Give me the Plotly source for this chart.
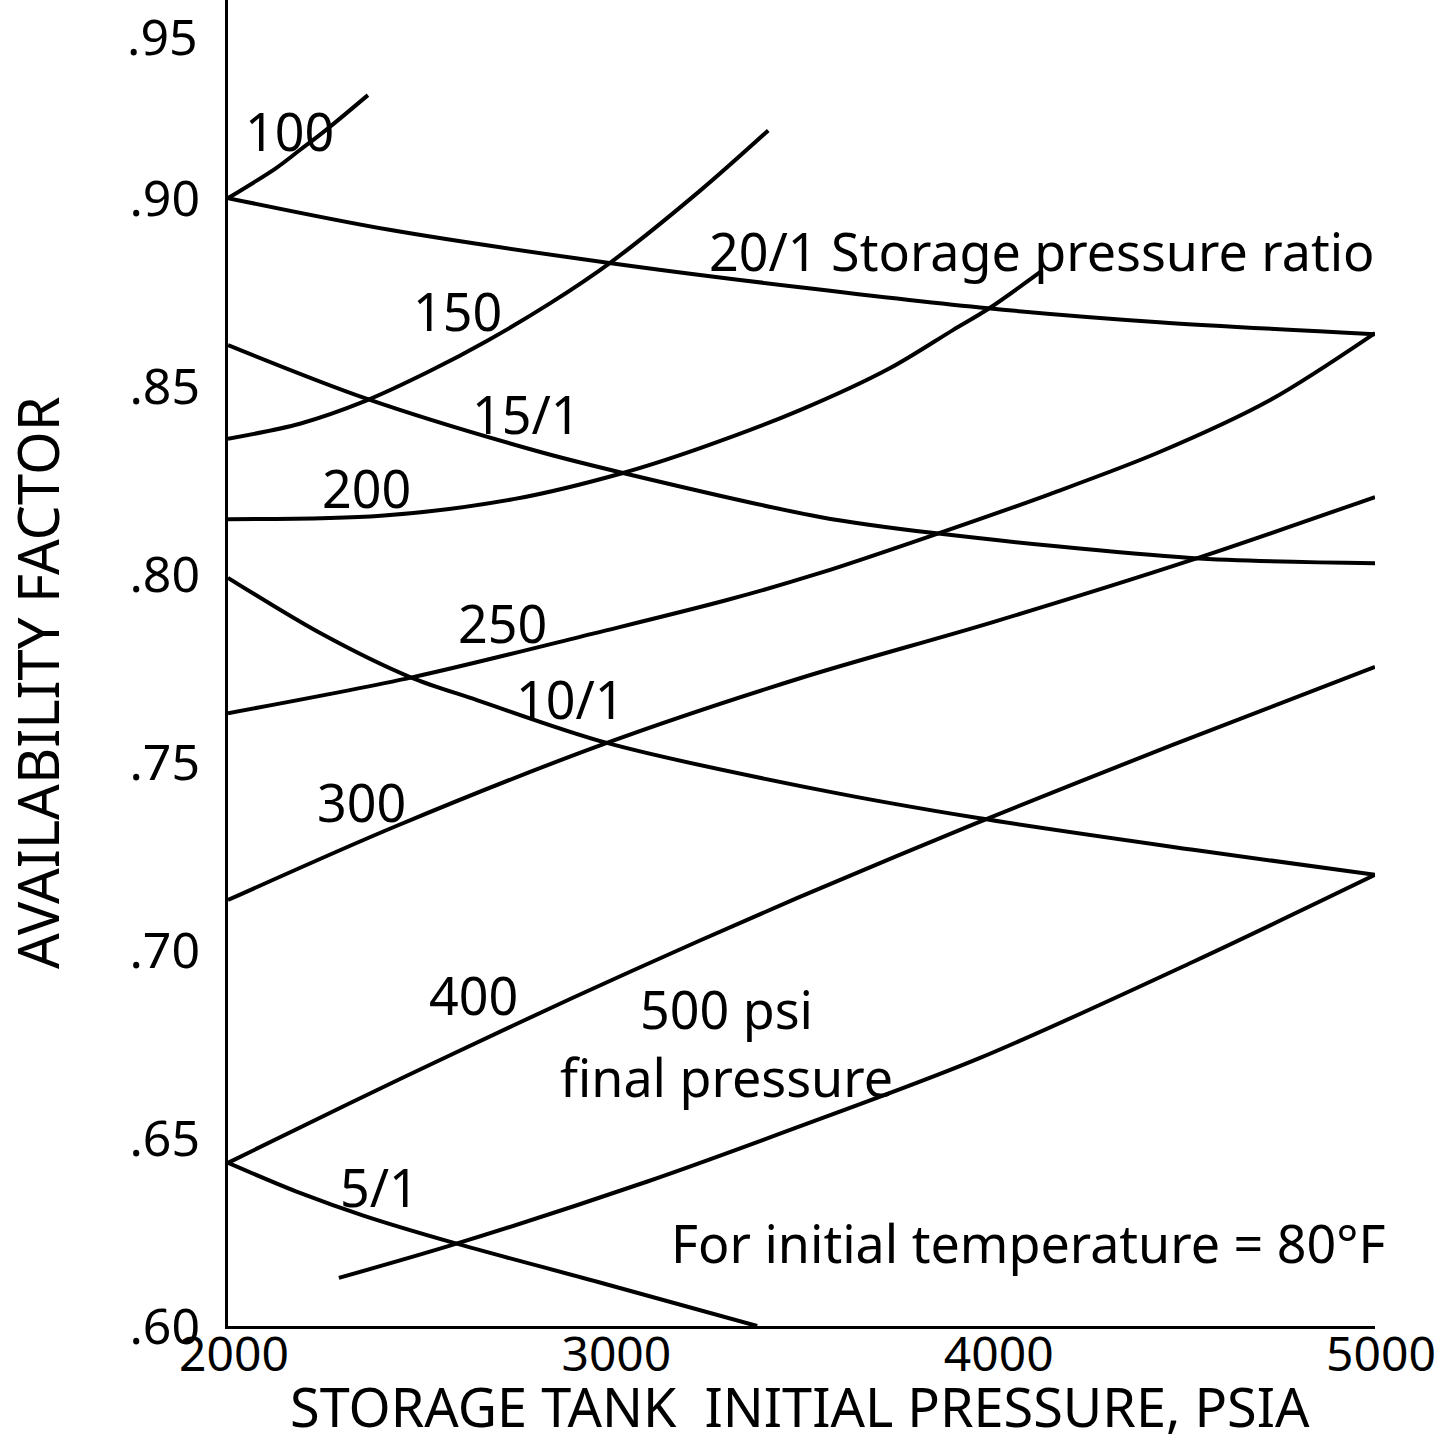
import plotly.graph_objects as go

# ---- data (x = storage tank initial pressure, psia; y = availability factor)
# final-pressure curves (psi)
p_100 = [2000, 2126, 2188, 2256, 2366]
af_100 = [0.9000, 0.9080, 0.9128, 0.9181, 0.9274]

p_150 = [2000, 2188, 2358, 2528, 2677, 2842, 3002, 3235, 3413]
af_150 = [0.836, 0.840, 0.846, 0.854, 0.862, 0.872, 0.883, 0.902, 0.918]

p_200 = [2000, 2400, 2750, 3033, 3235, 3496, 3732, 3896, 3988, 4124]
af_200 = [0.8146, 0.8155, 0.8200, 0.8269, 0.8335, 0.8436, 0.8548, 0.8649, 0.8705, 0.8803]

p_250 = [2000, 2484, 2960, 3305, 3549, 3860, 4150, 4435, 4726, 5000]
af_250 = [0.7630, 0.7726, 0.7843, 0.7931, 0.8003, 0.8109, 0.8213, 0.8324, 0.8463, 0.8641]

p_300 = [2000, 2445, 2991, 3496, 4003, 4519, 5000]
af_300 = [0.7133, 0.7332, 0.7551, 0.7723, 0.7873, 0.8037, 0.8205]

p_400 = [2000, 2317, 2578, 2902, 3227, 3488, 3951, 4469, 5000]
af_400 = [0.6434, 0.6592, 0.6719, 0.6873, 0.7022, 0.7138, 0.7335, 0.7545, 0.7753]

p_500 = [2290, 2591, 3099, 3488, 3967, 4529, 5000]
af_500 = [0.6128, 0.6217, 0.6385, 0.6528, 0.6713, 0.6971, 0.7200]

# storage pressure ratio curves
p_r20 = [2000, 2426, 3002, 3496, 3988, 4435, 5000]
af_r20 = [0.9000, 0.8915, 0.8827, 0.8763, 0.8707, 0.8670, 0.8638]

p_r15 = [2000, 2358, 2798, 3033, 3548, 3847, 4519, 5000]
af_r15 = [0.8609, 0.8468, 0.8330, 0.8269, 0.8152, 0.8109, 0.8043, 0.8029]

p_r10 = [2000, 2241, 2476, 2651, 2991, 3548, 3962, 4529, 5000]
af_r10 = [0.7990, 0.7843, 0.7726, 0.7665, 0.7551, 0.7426, 0.7351, 0.7266, 0.7200]

p_r5 = [2000, 2188, 2356, 2591, 2968, 3384]
af_r5 = [0.6434, 0.6354, 0.6293, 0.6221, 0.6117, 0.6000]

x_ticks = [2000, 3000, 4000, 5000]
x_ticktext = ["2000", "3000", "4000", "5000"]
y_ticks = [0.60, 0.65, 0.70, 0.75, 0.80, 0.85, 0.90]
y_ticktext = [".60", ".65", ".70", ".75", ".80", ".85", ".90"]
top_ticktext = ".95"

# curve labels: (text, x, y)
labels = [
    ("100", 2162, 0.918),
    ("150", 2599, 0.870),
    ("15/1", 2782, 0.8426),
    ("200", 2361, 0.8231),
    ("250", 2717, 0.7872),
    ("10/1", 2897, 0.7668),
    ("300", 2348, 0.7396),
    ("400", 2641, 0.6883),
    ("500 psi<br>final pressure", 3305, 0.6753),
    ("5/1", 2395, 0.6370),
    ("20/1 Storage pressure ratio", 4129, 0.8862),
    ("For initial temperature = 80°F", 4095, 0.6223),
]

FONT = "Noto Sans, DejaVu Sans, sans-serif"

fig = go.Figure()
series = [
    (p_100, af_100), (p_150, af_150), (p_200, af_200), (p_250, af_250),
    (p_300, af_300), (p_400, af_400), (p_500, af_500),
    (p_r20, af_r20), (p_r15, af_r15), (p_r10, af_r10), (p_r5, af_r5),
]
for xs, ys in series:
    fig.add_trace(go.Scatter(
        x=xs, y=ys, mode="lines",
        line=dict(color="black", width=4, shape="spline", smoothing=0.9),
        showlegend=False, hoverinfo="skip",
    ))

for text, x, y in labels:
    fig.add_annotation(
        x=x, y=y, xref="x", yref="y", text=text, showarrow=False,
        font=dict(family=FONT, size=52, color="black"),
        xanchor="center", yanchor="middle", align="center",
    )

# top tick label, drawn just inside the frame as in the reference
fig.add_annotation(
    x=-0.0244, y=1.0, xref="paper", yref="paper", text=top_ticktext,
    showarrow=False, font=dict(family=FONT, size=50, color="black"),
    xanchor="right", yanchor="top",
)

fig.add_annotation(
    x=-0.1665, y=0.485, xref="paper", yref="paper",
    text="AVAILABILITY FACTOR", textangle=-90, showarrow=False,
    font=dict(family=FONT, size=56, color="black"),
    xanchor="center", yanchor="middle",
)
fig.add_annotation(
    x=0.4987, y=-0.0603, xref="paper", yref="paper",
    text="STORAGE TANK&nbsp;&nbsp;INITIAL PRESSURE, PSIA", showarrow=False,
    font=dict(family=FONT, size=54, color="black"),
    xanchor="center", yanchor="middle",
)

fig.update_layout(
    width=1442, height=1445, autosize=False,
    margin=dict(l=228, r=67, t=0, b=119),
    paper_bgcolor="white", plot_bgcolor="white",
    font=dict(family=FONT, color="black"),
)
fig.update_xaxes(
    range=[2000, 5000], tickvals=x_ticks, ticktext=x_ticktext,
    showline=True, linecolor="black", linewidth=3, showgrid=False, zeroline=False,
    ticks="", tickfont=dict(family=FONT, size=48, color="black"),
    ticklabelstandoff=-16, ticklabelshift=6,
)
fig.update_yaxes(
    range=[0.60, 0.9527], tickvals=y_ticks, ticktext=y_ticktext,
    showline=True, linecolor="black", linewidth=3, showgrid=False, zeroline=False,
    ticks="", tickfont=dict(family=FONT, size=50, color="black"),
    ticklabelstandoff=15,
)

fig.write_html("out.html")
